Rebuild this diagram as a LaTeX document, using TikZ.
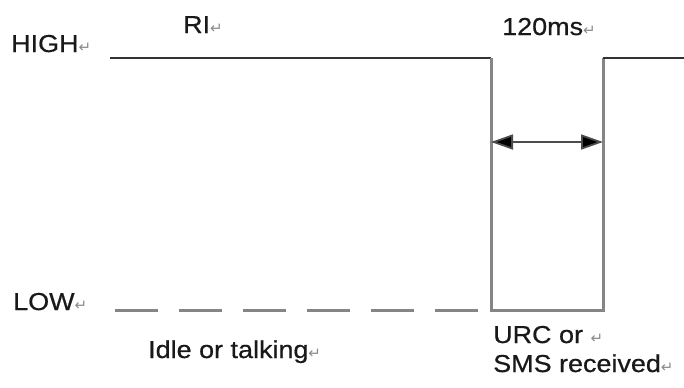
\documentclass[tikz,border=0pt]{standalone}
\usepackage{fontspec}
\setmainfont[FakeStretch=1.1,FakeBold=0.6]{Liberation Sans}
\newfontfamily\symf{DejaVu Sans}
\usetikzlibrary{arrows.meta}
\definecolor{hicol}{HTML}{333333}
\definecolor{pulsecol}{HTML}{858585}
\newcommand\pmark{{\symf\fontsize{15bp}{15bp}\selectfont\color{black!45}↵}}
\tikzset{
  lbl/.style={anchor=base west, inner sep=0pt, text=black!90, font=\fontsize{24.5bp}{30bp}\selectfont},
  hiline/.style={draw=hicol, line width=1.8bp},
  pulse/.style={draw=pulsecol, line width=3bp},
  lowdash/.style={draw=pulsecol, line width=3bp, dash pattern=on 43bp off 21bp},
  dimarrow/.style={draw=black!70, line width=1.8bp, {Triangle[length=22bp,width=15bp,fill=black]}-{Triangle[length=22bp,width=15bp,fill=black]}}
}
\begin{document}
\begin{tikzpicture}[x=1bp,y=-1bp]
\useasboundingbox (0,0) rectangle (684,387);
\fill[white] (0,0) rectangle (684,387);
% waveform points
\coordinate (h0) at (110,58);
\coordinate (f1) at (491,58);
\coordinate (l1) at (491,310);
\coordinate (l2) at (603,310);
\coordinate (r1) at (603,58);
\coordinate (h1) at (684,58);
\coordinate (d0) at (115,310);
\coordinate (d1) at (479,310);
\coordinate (a0) at (491,142);
\coordinate (a1) at (603,142);
% lines
\draw[hiline] (h0) -- (f1);
\draw[pulse] (f1) -- (l1) -- (l2) -- (r1);
\draw[hiline] (r1) -- (h1);
\draw[lowdash] (d0) -- (d1);
\draw[dimarrow] (a0) -- (a1);
% labels
\node[lbl] (high) at (11,52) {HIGH\pmark};
\node[lbl] (ri) at (183,33) {RI\pmark};
\node[lbl] (t120) at (502,35) {120ms\pmark};
\node[lbl] (low) at (13,310) {LOW\pmark};
\node[lbl] (idle) at (148,358) {Idle or talking\pmark};
\node[lbl] (urc) at (493,343) {URC or \pmark};
\node[lbl] (sms) at (493,372) {SMS received\pmark};
\end{tikzpicture}
\end{document}
